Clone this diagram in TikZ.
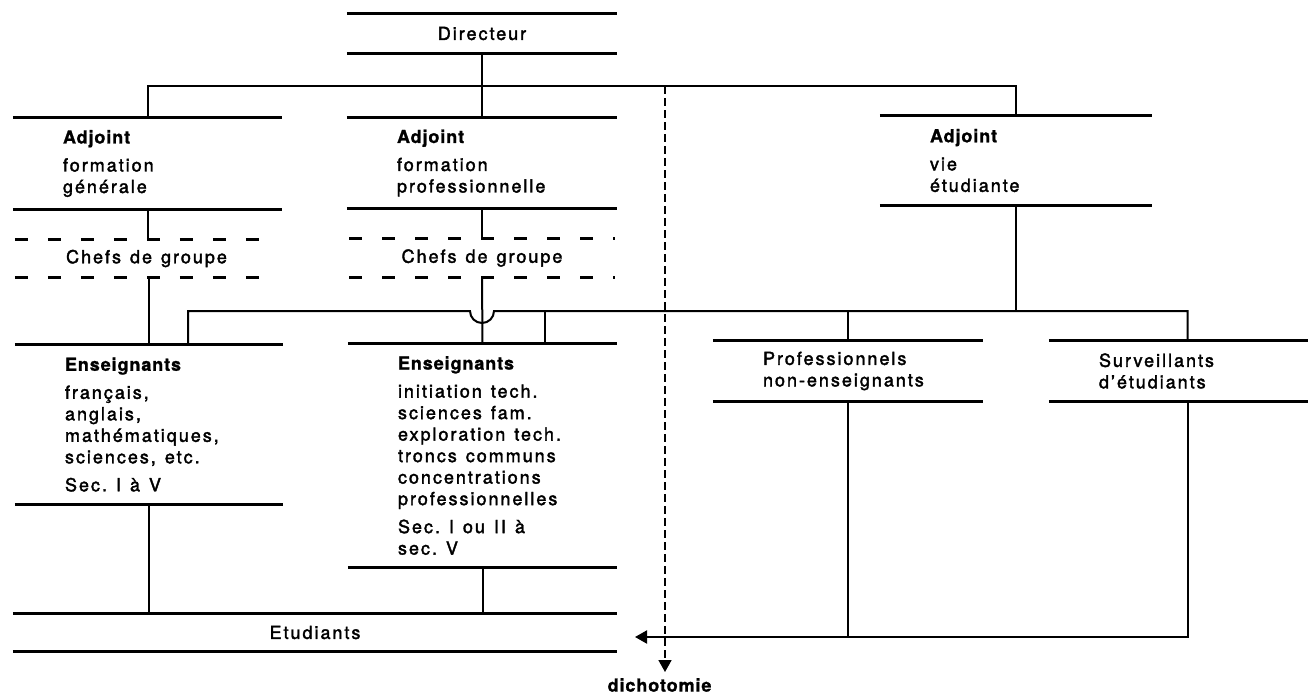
\documentclass[tikz,border=0pt]{standalone}
\usepackage{fontspec}
\setmainfont{TeX Gyre Heros}[LetterSpace=11, FakeBold=2,
  BoldFeatures={LetterSpace=5, FakeBold=1.2}]
\usepackage{tikz}
\usetikzlibrary{arrows.meta}
\newcommand\orgfont{\fontsize{18}{21.5}\selectfont}

\begin{document}
\begin{tikzpicture}[x=1pt,y=-1pt,
  every node/.style={font=\orgfont, inner sep=0pt},
  rule/.style={line width=2.8pt},
  dashrule/.style={line width=2.8pt, dash pattern=on 13pt off 20pt},
  link/.style={line width=2pt},
  dashlink/.style={line width=1.7pt, dash pattern=on 8pt off 4pt},
  tip/.style={-{Triangle[length=12pt,width=13pt]}},
  orgbox/.style={text width=#1, align=left, execute at begin node={\leftskip=50pt\spaceskip=9pt plus 2pt\relax}},
  titlebox/.style={minimum width=#1, align=center, execute at begin node={\spaceskip=9pt plus 2pt\relax}}]
  \useasboundingbox (0,0) rectangle (1308,694);
  \coordinate (top) at (0,86);
  \coordinate (bus) at (0,311);
  \coordinate (arrtip) at (635,637);
  \coordinate (dtop) at (665,86);

  \node[titlebox=270, minimum height=39] (dir) at (482,33.5) {Directeur};
  \node[orgbox=269, minimum height=91] (adfg) at (147.5,163.5) {\textbf{Adjoint}\\[6.5pt] formation\\ générale};
  \node[orgbox=270, minimum height=90] (adfp) at (482,163) {\textbf{Adjoint}\\[6.5pt] formation\\ professionnelle};
  \node[orgbox=272, minimum height=89] (adve) at (1016,160.5) {\textbf{Adjoint}\\[6.5pt] vie\\ étudiante};
  \node[titlebox=263, minimum height=37] (chfg) at (146.5,258.5) {Chefs de groupe};
  \node[titlebox=265, minimum height=38] (chfp) at (482,258) {Chefs de groupe};
  \node[orgbox=268, minimum height=159] (ensfg) at (149,424.5) {\textbf{Enseignants}\\[6.5pt] français,\\ anglais,\\ mathématiques,\\ sciences, etc.\\[6.5pt] Sec. I à V};
  \node[orgbox=269, minimum height=223] (ensfp) at (482.5,455.5) {\textbf{Enseignants}\\[6.5pt] initiation tech.\\ sciences fam.\\ exploration tech.\\ troncs communs\\ concentrations\\ professionnelles\\[6.5pt] Sec. I ou II à\\ sec. V};
  \node[orgbox=270, minimum height=60] (pro) at (848,371) {Professionnels\\ non-enseignants};
  \node[orgbox=259, minimum height=60] (surv) at (1178.5,371) {Surveillants\\ d’étudiants};
  \node[titlebox=604, minimum height=37] (etu) at (315,632.5) {Etudiants};
  \node (dicho) at (660,685) {\textbf{dichotomie}};

  \foreach \n in {dir,adfg,adfp,adve,ensfg,ensfp,pro,surv,etu}
    \draw[rule] (\n.north west) -- (\n.north east) (\n.south west) -- (\n.south east);
  \foreach \n in {chfg,chfp}
    \draw[dashrule] (\n.north west) -- (\n.north east) (\n.south west) -- (\n.south east);

  \draw[link] (dir.south) -- (adfp.north);
  \draw[link] (adfg.north) -- (adfg.north |- top) -| (adve.north);
  \draw[link] (adfg.south) -- (adfg.south |- chfg.north);
  \draw[link] (adfp.south) -- (chfp.north);
  \draw[link] ([xshift=2]chfg.south) -- ([xshift=2]chfg.south |- ensfg.north);
  \draw[link] (chfp.south) -- (ensfp.north);
  \draw[link] ([xshift=39]ensfg.north) -- ([xshift=39]ensfg.north |- bus)
    -- ([xshift=-12]chfp.south |- bus) arc[start angle=180, end angle=0, radius=12]
    -- ([xshift=9]surv.north |- bus) -- ([xshift=9]surv.north);
  \draw[link] (adve.south) -- (adve.south |- bus);
  \draw[link] ([xshift=62]ensfp.north) -- ([xshift=62]ensfp.north |- bus);
  \draw[link] (pro.north) -- (pro.north |- bus);
  \draw[link] (ensfg.south) -- (ensfg.south |- etu.north);
  \draw[link] (ensfp.south) -- (ensfp.south |- etu.north);
  \draw[link] (pro.south) -- (pro.south |- arrtip);
  \draw[link,tip] ([xshift=9]surv.south) |- (arrtip);
  \draw[dashlink,tip,shorten >=6pt] (dtop) -- (dtop |- dicho.north);
\end{tikzpicture}
\end{document}
